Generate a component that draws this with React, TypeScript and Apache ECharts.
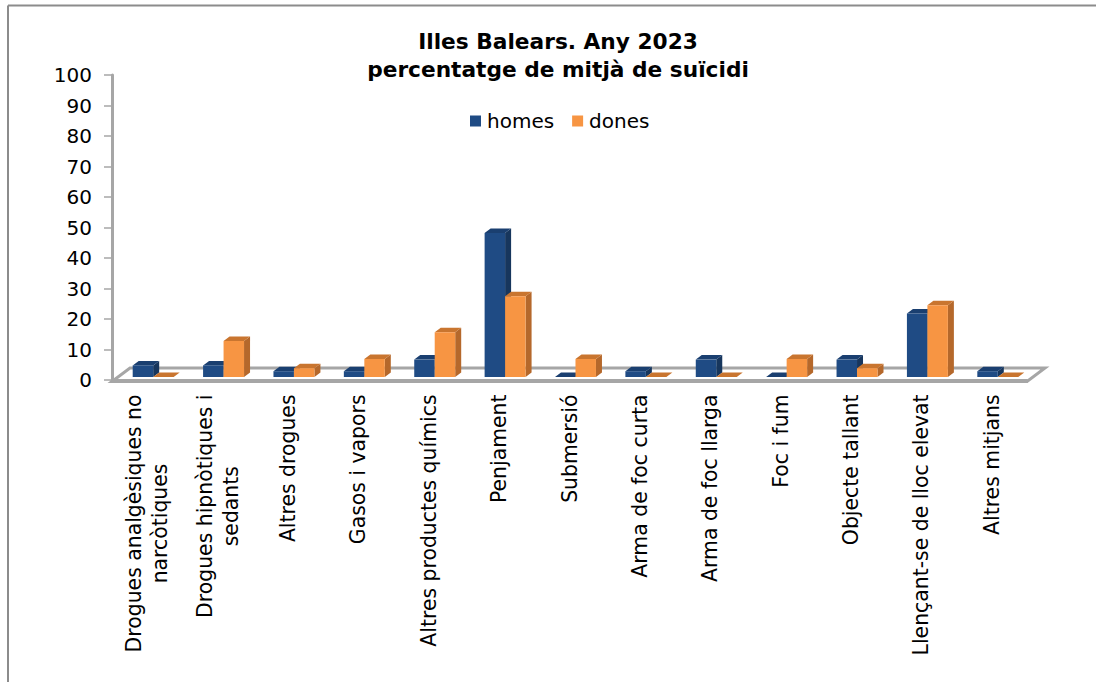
import React, { useEffect, useRef } from "react";
import * as echarts from "echarts";

const categories = [
  "Drogues analgèsiques no\nnarcòtiques",
  "Drogues hipnòtiques i\nsedants",
  "Altres drogues",
  "Gasos i vapors",
  "Altres productes químics",
  "Penjament",
  "Submersió",
  "Arma de foc curta",
  "Arma de foc llarga",
  "Foc i fum",
  "Objecte tallant",
  "Llençant-se de lloc elevat",
  "Altres mitjans",
];
const homes = [3.8, 3.8, 1.9, 1.9, 5.7, 47.2, 0, 1.9, 5.7, 0, 5.7, 20.8, 1.9];
const dones = [0, 11.8, 2.9, 5.9, 14.7, 26.5, 5.9, 0, 0, 5.9, 2.9, 23.5, 0];
const titleText = "Illes Balears. Any 2023\npercentatge de mitjà de suïcidi";

const FONT = "'DejaVu Sans', sans-serif";
const GREY = "#a6a6a6";
const palette = [
  { front: "#1F4B84", side: "#17365D", top: "#1A3F70" },
  { front: "#F79543", side: "#B5682B", top: "#C9752F" },
];

const renderBar = (seriesIdx: number) => (_: any, api: any) => {
  const cat = api.value(0);
  const val = api.value(1);
  const band = api.size([1, 0])[0];
  const c = api.coord([cat, val]);
  const base = api.coord([cat, 0])[1] - 3;
  const top = c[1] - 3;
  const w = band * 0.291;
  const x0 = c[0] - band / 2 + band * 0.294 + seriesIdx * w;
  const x1 = x0 + w;
  const dx = 6;
  const dy = 4.5;
  const col = palette[seriesIdx];
  return {
    type: "group",
    children: [
      {
        type: "polygon",
        shape: { points: [[x1, base], [x1 + dx, base - dy], [x1 + dx, top - dy], [x1, top]] },
        style: { fill: col.side },
      },
      {
        type: "polygon",
        shape: { points: [[x0, top], [x0 + dx, top - dy], [x1 + dx, top - dy], [x1, top]] },
        style: { fill: col.top },
      },
      {
        type: "rect",
        shape: { x: x0, y: top, width: w, height: base - top },
        style: { fill: col.front },
      },
    ],
  };
};

export default function App() {
  const ref = useRef<HTMLDivElement>(null);
  useEffect(() => {
    const chart = echarts.init(ref.current!, null, { renderer: "svg" });
    chart.setOption({
      animation: false,
      backgroundColor: "#ffffff",
      title: {
        text: titleText,
        left: 553,
        top: 22,
        textAlign: "center",
        textStyle: { fontFamily: FONT, fontWeight: "bold", fontSize: 21.7, lineHeight: 28, color: "#000" },
      },
      legend: {
        data: ["homes", "dones"],
        left: 465,
        top: 106,
        icon: "rect",
        itemWidth: 11,
        itemHeight: 11,
        itemGap: 18,
        textStyle: { fontFamily: FONT, fontSize: 20, color: "#000", padding: [0, 0, 0, 1] },
      },
      grid: { left: 112, right: 69, top: 75, height: 305 },
      xAxis: {
        type: "category",
        data: categories,
        offset: 1.5,
        axisLine: { lineStyle: { color: GREY, width: 3 } },
        axisTick: { show: true, alignWithLabel: false, length: 3, lineStyle: { color: GREY, width: 1.5 } },
        axisLabel: {
          interval: 0,
          rotate: 90,
          margin: 13,
          color: "#000",
          fontFamily: FONT,
          fontSize: 20.4,
          lineHeight: 26,
          formatter: (v: string) => v.split("\n").map((l) => `{a|${l}}`).join("\n"),
          rich: { a: { align: "center", fontFamily: FONT, fontSize: 20.4, lineHeight: 26, color: "#000" } },
        },
      },
      yAxis: {
        type: "value",
        min: 0,
        max: 100,
        interval: 10,
        splitLine: { show: false },
        axisLine: { show: true, lineStyle: { color: GREY, width: 3 } },
        axisTick: { show: true, length: 8, lineStyle: { color: GREY, width: 1.5 } },
        axisLabel: { color: "#000", fontFamily: FONT, fontSize: 20, margin: 20 },
      },
      graphic: [
        { type: "line", shape: { x1: 8, y1: 5.5, x2: 1096, y2: 5.5 }, style: { stroke: "#8c8c8c", lineWidth: 2 }, z: 0 },
        { type: "line", shape: { x1: 8, y1: 5.5, x2: 8, y2: 682 }, style: { stroke: "#8c8c8c", lineWidth: 2 }, z: 0 },
        {
          type: "polygon",
          shape: { points: [[112, 381.5], [130, 368], [1045, 368], [1027, 381.5]] },
          style: { fill: "#ffffff", stroke: GREY, lineWidth: 3 },
          z: 0,
        },
      ],
      series: [
        {
          name: "homes",
          type: "custom",
          renderItem: renderBar(0),
          itemStyle: { color: palette[0].front },
          encode: { x: 0, y: 1 },
          data: homes.map((v, i) => [i, v]),
          z: 3,
        },
        {
          name: "dones",
          type: "custom",
          renderItem: renderBar(1),
          itemStyle: { color: palette[1].front },
          encode: { x: 0, y: 1 },
          data: dones.map((v, i) => [i, v]),
          z: 4,
        },
      ],
    });
    return () => chart.dispose();
  }, []);
  return <div ref={ref} style={{ position: "absolute", left: 0, top: 0, width: 1096, height: 682 }} />;
}
